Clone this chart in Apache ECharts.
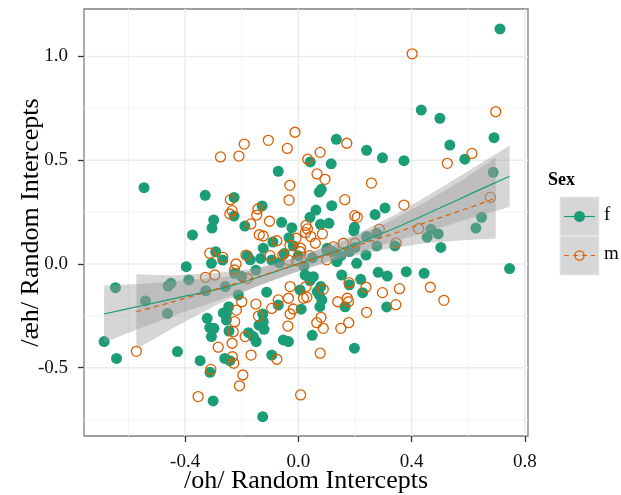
<!DOCTYPE html>
<html>
<head>
<meta charset="utf-8">
<script src="https://cdn.jsdelivr.net/npm/echarts@6/dist/echarts.min.js"></script>
<style>
  html, body { margin: 0; padding: 0; background: #fff; }
  #chart { width: 621px; height: 495px; }
</style>
</head>
<body>
<div id="chart"></div>
<script>
// Random intercepts per speaker: [/oh/, /æh/]
const fPoints = [
  [0.712, 1.133], [0.434, 0.742], [0.500, 0.702], [0.691, 0.609], [0.535, 0.573], [0.588, 0.505],
  [0.297, 0.512], [0.373, 0.498], [0.688, 0.442], [0.306, 0.270], [0.271, 0.238], [0.647, 0.225],
  [0.627, 0.173], [0.468, 0.167], [0.455, 0.129], [0.494, 0.145], [0.341, 0.087], [0.503, 0.080],
  [0.282, -0.040], [0.314, -0.058], [0.381, -0.037], [0.444, -0.045], [0.746, -0.022], [0.312, -0.207],
  [-0.545, 0.368], [-0.329, 0.331], [-0.227, 0.321], [-0.299, 0.212], [-0.227, 0.231], [-0.305, 0.173],
  [-0.374, 0.140], [0.134, 0.601], [0.241, 0.548], [0.042, 0.492], [0.116, 0.483], [-0.071, 0.447],
  [0.074, 0.347], [0.081, 0.360], [0.118, 0.281], [0.062, 0.260], [-0.128, 0.280], [0.041, 0.225],
  [-0.059, 0.201], [-0.189, 0.183], [-0.023, 0.175], [0.078, 0.191], [0.108, 0.196], [0.198, 0.177],
  [0.196, 0.160], [-0.033, 0.127], [-0.090, 0.106], [-0.018, 0.088], [-0.124, 0.076], [0.102, 0.076],
  [0.241, 0.132], [0.277, 0.148], [-0.646, -0.114], [-0.686, -0.374], [-0.642, -0.455], [-0.540, -0.178],
  [-0.462, -0.238], [-0.460, -0.106], [-0.450, -0.093], [-0.427, -0.422], [-0.396, -0.013], [-0.387, -0.077],
  [-0.327, -0.129], [-0.292, 0.059], [-0.307, 0.003], [-0.267, 0.019], [-0.322, -0.262], [-0.313, -0.307],
  [-0.298, -0.310], [-0.307, -0.350], [-0.347, -0.466], [-0.312, -0.522], [-0.301, -0.660], [-0.254, -0.238],
  [-0.265, -0.236], [-0.246, -0.206], [-0.254, -0.270], [-0.245, -0.323], [-0.260, -0.455], [-0.242, -0.466],
  [-0.258, -0.109], [-0.225, -0.045], [-0.133, 0.027], [-0.094, 0.019], [-0.067, 0.006], [0.100, 0.067],
  [0.136, 0.011], [0.200, 0.080], [0.206, 0.003], [0.239, 0.043], [0.277, 0.087], [0.153, -0.053],
  [0.180, -0.100], [0.220, -0.074], [0.227, -0.138], [0.165, -0.206], [0.198, -0.406], [0.049, -0.344],
  [0.076, -0.205], [0.083, -0.173], [0.074, -0.149], [0.079, -0.109], [0.067, -0.133], [0.041, -0.080],
  [0.053, -0.061], [0.024, -0.053], [0.006, -0.125], [0.010, -0.218], [-0.053, -0.366], [-0.035, -0.374],
  [-0.071, -0.198], [-0.112, -0.136], [-0.126, -0.241], [-0.124, -0.278], [-0.139, -0.295], [-0.121, -0.315],
  [-0.176, -0.331], [-0.159, -0.350], [-0.149, -0.374], [-0.094, -0.439], [-0.126, -0.736], [-0.212, -0.149],
  [-0.170, 0.020], [-0.150, -0.030], [-0.050, 0.050], [0.000, 0.040], [0.020, -0.010], [0.050, 0.030],
  [0.120, 0.060], [0.150, 0.040], [0.180, 0.060], [-0.200, -0.060], [-0.180, 0.040]
];

const mPoints = [
  [0.402, 1.013], [0.697, 0.734], [0.613, 0.533], [0.526, 0.485], [0.373, 0.284], [0.678, 0.321],
  [0.286, 0.167], [0.425, 0.170], [0.345, 0.101], [0.297, -0.138], [0.357, -0.119], [0.466, -0.112],
  [0.514, -0.175], [0.344, -0.196], [-0.275, 0.516], [-0.210, 0.520], [-0.240, 0.310], [-0.234, 0.257],
  [-0.242, 0.241], [-0.191, 0.578], [-0.106, 0.596], [-0.012, 0.635], [-0.039, 0.557], [0.171, 0.582],
  [0.077, 0.538], [0.033, 0.505], [0.066, 0.434], [0.094, 0.408], [-0.030, 0.379], [0.258, 0.390],
  [-0.033, 0.308], [0.164, 0.310], [-0.143, 0.265], [-0.147, 0.236], [0.199, 0.233], [0.208, 0.225],
  [-0.102, 0.206], [-0.168, 0.193], [0.027, 0.186], [0.032, 0.169], [0.085, 0.145], [0.025, 0.151],
  [-0.138, 0.141], [-0.124, 0.135], [0.044, 0.132], [-0.076, 0.112], [-0.008, 0.124], [0.124, 0.083],
  [0.159, 0.100], [0.008, 0.076], [-0.572, -0.421], [-0.328, -0.064], [-0.295, -0.053], [-0.313, 0.052],
  [-0.267, 0.032], [-0.283, -0.401], [-0.309, -0.508], [-0.354, -0.639], [-0.234, -0.382], [-0.233, -0.447],
  [-0.228, -0.478], [-0.208, -0.587], [-0.225, -0.029], [-0.219, -0.222], [-0.225, -0.278], [-0.230, -0.326],
  [-0.185, 0.043], [-0.055, 0.043], [-0.035, 0.019], [0.006, 0.059], [-0.006, 0.016], [0.179, -0.090],
  [0.239, -0.112], [0.173, -0.165], [0.177, -0.182], [0.139, -0.182], [0.241, -0.233], [0.178, -0.283],
  [0.150, -0.310], [0.077, -0.430], [0.065, -0.283], [0.088, -0.310], [0.080, -0.257], [0.088, -0.122],
  [0.027, -0.109], [0.018, -0.165], [0.030, -0.160], [-0.029, -0.109], [-0.035, -0.165], [-0.018, -0.217],
  [-0.029, -0.241], [-0.037, -0.299], [-0.071, -0.173], [-0.094, -0.214], [-0.150, -0.193], [-0.141, -0.251],
  [-0.188, -0.350], [-0.167, -0.439], [-0.076, -0.459], [-0.196, -0.535], [0.008, -0.631], [-0.200, -0.182],
  [-0.100, 0.040], [-0.030, 0.090], [0.040, 0.040], [0.060, 0.100], [0.100, 0.020], [0.200, 0.100],
  [-0.220, 0.000], [-0.180, -0.070]
];

// Loess fits with confidence band, per group
const fSmoothX = [-0.686, -0.55, -0.4, -0.25, -0.1, 0.05, 0.2, 0.35, 0.5, 0.62, 0.746];
const fSmoothY = [-0.241, -0.200, -0.155, -0.110, -0.045, 0.025, 0.095, 0.178, 0.270, 0.345, 0.423];
const fLower   = [-0.378, -0.305, -0.230, -0.160, -0.083, -0.010, 0.050, 0.113, 0.175, 0.225, 0.275];
const fUpper   = [-0.104, -0.095, -0.080, -0.060, -0.007, 0.060, 0.140, 0.243, 0.365, 0.465, 0.571];

const mSmoothX = [-0.572, -0.45, -0.3, -0.15, 0, 0.15, 0.3, 0.45, 0.58, 0.697];
const mSmoothY = [-0.230, -0.185, -0.125, -0.065, 0.000, 0.065, 0.130, 0.200, 0.260, 0.318];
const mLower   = [-0.410, -0.315, -0.205, -0.110, -0.035, 0.025, 0.070, 0.100, 0.115, 0.123];
const mUpper   = [-0.050, -0.055, -0.045, -0.020, 0.035, 0.105, 0.190, 0.300, 0.405, 0.513];

const xTicks = [-0.4, 0, 0.4, 0.8];
const xMinor = [-0.6, -0.2, 0.2, 0.6];
const yTicks = [-0.5, 0, 0.5, 1.0];
const yMinor = [-0.75, -0.25, 0.25, 0.75];
const xRange = [-0.757, 0.811];
const yRange = [-0.829, 1.229];

const sexLabels = ['f', 'm'];
const COLORS = { f: '#1B9E77', m: '#D95F02' };
const FONT = '"Liberation Serif", "DejaVu Serif", serif';

const zip = (xs, ys) => xs.map((x, i) => [x, ys[i]]);

// Panel grid lines drawn in data coordinates
function renderGrid(params, api) {
  const cs = params.coordSys;
  const kids = [];
  const vline = (v, color, w) => {
    const p = api.coord([v, yRange[0]]);
    kids.push({ type: 'line', shape: { x1: p[0], y1: cs.y, x2: p[0], y2: cs.y + cs.height },
      style: { stroke: color, lineWidth: w } });
  };
  const hline = (v, color, w) => {
    const p = api.coord([xRange[0], v]);
    kids.push({ type: 'line', shape: { x1: cs.x, y1: p[1], x2: cs.x + cs.width, y2: p[1] },
      style: { stroke: color, lineWidth: w } });
  };
  xMinor.forEach(v => vline(v, '#f4f4f4', 1));
  yMinor.forEach(v => hline(v, '#f4f4f4', 1));
  xTicks.forEach(v => vline(v, '#ebebeb', 1.5));
  yTicks.forEach(v => hline(v, '#ebebeb', 1.5));
  return { type: 'group', children: kids };
}

// Confidence ribbon: upper edge left to right, lower edge back
function bandRenderer(xs, lo, hi) {
  return function (params, api) {
    const pts = [];
    xs.forEach((x, i) => pts.push(api.coord([x, hi[i]])));
    for (let i = xs.length - 1; i >= 0; i--) pts.push(api.coord([xs[i], lo[i]]));
    return { type: 'polygon', shape: { points: pts },
      style: { fill: 'rgba(153,153,153,0.4)' } };
  };
}

const chart = echarts.init(document.getElementById('chart'), null, { renderer: 'canvas' });

const axisLabelStyle = { fontFamily: FONT, fontSize: 19, color: '#111' };

chart.setOption({
  animation: false,
  backgroundColor: '#fff',
  grid: { left: 84, right: 93, top: 9, bottom: 59, show: true, outerBoundsMode: 'none',
          containLabel: false,
          borderColor: '#7f7f7f', borderWidth: 1.3, backgroundColor: '#fff' },
  xAxis: {
    type: 'value', min: xRange[0], max: xRange[1],
    name: '/oh/ Random Intercepts', nameLocation: 'middle', nameGap: 32, nameMoveOverlap: false,
    nameTextStyle: { fontFamily: FONT, fontSize: 26, color: '#000' },
    axisLine: { show: false, onZero: false },
    axisTick: { show: true, customValues: xTicks, length: 6, lineStyle: { color: '#333', width: 1.3 } },
    axisLabel: Object.assign({ customValues: xTicks, margin: 17,
      formatter: v => v.toFixed(1) }, axisLabelStyle),
    splitLine: { show: false }
  },
  yAxis: {
    type: 'value', min: yRange[0], max: yRange[1],
    name: '/æh/ Random Intercepts', nameLocation: 'middle', nameGap: 40, nameMoveOverlap: false,
    nameTextStyle: { fontFamily: FONT, fontSize: 26, color: '#000' },
    axisLine: { show: false, onZero: false },
    axisTick: { show: true, customValues: yTicks, length: 6, lineStyle: { color: '#333', width: 1.3 } },
    axisLabel: Object.assign({ customValues: yTicks, margin: 16,
      formatter: v => v.toFixed(1) }, axisLabelStyle),
    splitLine: { show: false }
  },
  series: [
    { type: 'custom', name: 'grid', renderItem: renderGrid, data: [[0, 0]], z: 0, silent: true },
    { type: 'scatter', name: 'f', data: fPoints, symbol: 'circle', symbolSize: 11, z: 2,
      itemStyle: { color: COLORS.f, opacity: 1 } },
    { type: 'scatter', name: 'm', data: mPoints, symbol: 'circle', symbolSize: 10, z: 2,
      itemStyle: { color: 'rgba(0,0,0,0)', borderColor: COLORS.m, borderWidth: 1.3, opacity: 1 } },
    { type: 'custom', name: 'f band', renderItem: bandRenderer(fSmoothX, fLower, fUpper),
      data: [[0, 0]], z: 3, silent: true },
    { type: 'custom', name: 'm band', renderItem: bandRenderer(mSmoothX, mLower, mUpper),
      data: [[0, 0]], z: 3, silent: true },
    { type: 'line', name: 'f fit', data: zip(fSmoothX, fSmoothY), showSymbol: false, smooth: 0.3, z: 4,
      lineStyle: { color: COLORS.f, width: 1.2 } },
    { type: 'line', name: 'm fit', data: zip(mSmoothX, mSmoothY), showSymbol: false, smooth: 0.3, z: 4,
      lineStyle: { color: COLORS.m, width: 1.2, type: [5, 4] } }
  ],
  graphic: [
    { type: 'text', left: 548, top: 171,
      style: { text: 'Sex', font: 'bold 18px ' + FONT, fill: '#000' } },
    { type: 'rect', shape: { x: 560, y: 197, width: 39, height: 39 },
      style: { fill: '#d6d6d6', stroke: '#ececec', lineWidth: 1 } },
    { type: 'rect', shape: { x: 560, y: 236, width: 39, height: 39 },
      style: { fill: '#d6d6d6', stroke: '#ececec', lineWidth: 1 } },
    { type: 'line', shape: { x1: 564, y1: 216.5, x2: 595, y2: 216.5 },
      style: { stroke: COLORS.f, lineWidth: 1.2 } },
    { type: 'circle', shape: { cx: 579.5, cy: 216.5, r: 5.5 }, style: { fill: COLORS.f } },
    { type: 'line', shape: { x1: 564, y1: 255.5, x2: 595, y2: 255.5 },
      style: { stroke: COLORS.m, lineWidth: 1.2, lineDash: [5, 4] } },
    { type: 'circle', shape: { cx: 579.5, cy: 255.5, r: 4.6 },
      style: { fill: 'rgba(0,0,0,0)', stroke: COLORS.m, lineWidth: 1.3 } },
    { type: 'text', left: 604, top: 206,
      style: { text: sexLabels[0], font: '19px ' + FONT, fill: '#000' } },
    { type: 'text', left: 604, top: 245,
      style: { text: sexLabels[1], font: '19px ' + FONT, fill: '#000' } }
  ]
});
</script>
</body>
</html>
